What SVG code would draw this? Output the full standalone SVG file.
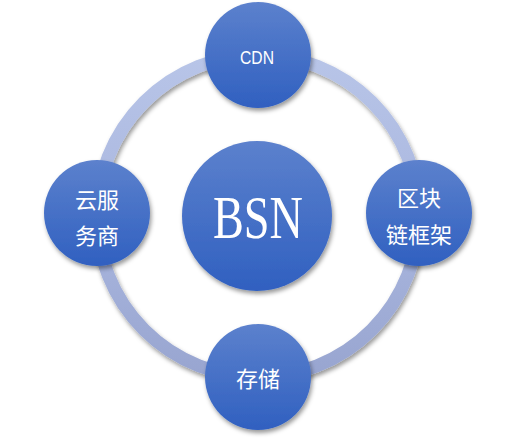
<svg xmlns="http://www.w3.org/2000/svg" width="516" height="440" viewBox="0 0 516 440">
<defs>
<linearGradient id="nodeFill" x1="0" y1="0" x2="0" y2="1">
<stop offset="0" stop-color="#5c81cd"/>
<stop offset="1" stop-color="#3060c0"/>
</linearGradient>
<linearGradient id="ringFill" gradientUnits="userSpaceOnUse" x1="0" y1="55" x2="0" y2="377">
<stop offset="0" stop-color="#b8c5e8"/>
<stop offset="0.5" stop-color="#aab7df"/>
<stop offset="1" stop-color="#98a5d0"/>
</linearGradient>
<filter id="shadow" x="-20%" y="-20%" width="150%" height="150%">
<feDropShadow dx="1.5" dy="3" stdDeviation="2" flood-color="#000" flood-opacity="0.4"/>
</filter>
</defs>
<style>
.node{fill:url(#nodeFill);filter:url(#shadow)}
.lbl{fill:#fff;font-family:"Noto Sans CJK SC","Noto Sans",sans-serif;font-size:22px;text-anchor:middle}
.lat{fill:#fff;font-family:"Liberation Sans","Noto Sans",sans-serif;font-size:19px;text-anchor:middle}
.big{fill:#fff;font-family:"Liberation Serif","Noto Serif",serif;font-size:62px;text-anchor:middle}
</style>
<g id="connectors">
<circle cx="258" cy="216" r="161" fill="none" stroke="url(#ringFill)" stroke-width="13" filter="url(#shadow)"/>
</g>
<g id="node-bsn">
<circle class="node" cx="257" cy="216" r="75"/>
<text class="big" x="258" y="238" textLength="90" lengthAdjust="spacingAndGlyphs">BSN</text>
</g>
<g id="node-cdn">
<circle class="node" cx="258" cy="55" r="53"/>
<text class="lat" x="257" y="64" textLength="34" lengthAdjust="spacingAndGlyphs">CDN</text>
</g>
<g id="node-cloud">
<circle class="node" cx="97" cy="213" r="53"/>
<text class="lbl" x="97" y="208">云服</text>
<text class="lbl" x="97" y="244">务商</text>
</g>
<g id="node-chain">
<circle class="node" cx="419" cy="213" r="53"/>
<text class="lbl" x="419" y="206">区块</text>
<text class="lbl" x="419" y="243">链框架</text>
</g>
<g id="node-storage">
<circle class="node" cx="258" cy="377" r="53"/>
<text class="lbl" x="258" y="387">存储</text>
</g>
</svg>
